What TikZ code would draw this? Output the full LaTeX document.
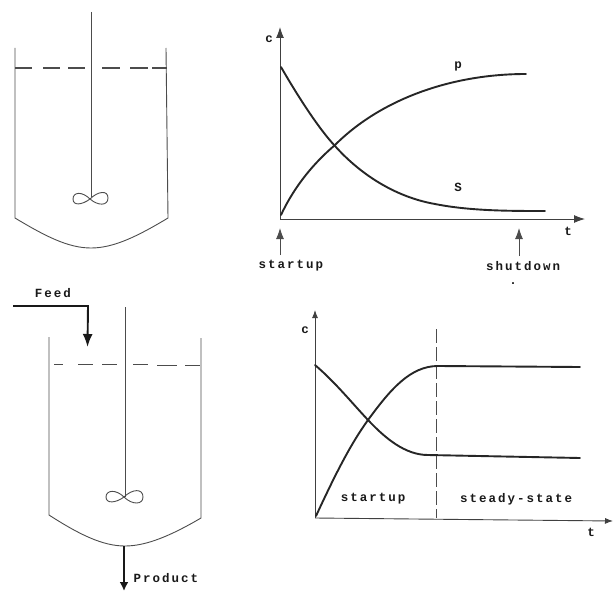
\documentclass[tikz,border=0pt]{standalone}
\usepackage{fontspec}
\setmainfont{Liberation Mono}[LetterSpace=16]
\usetikzlibrary{arrows.meta}
\tikzset{
  thin line/.style={draw=black!70,line width=0.9pt},
  curve/.style={draw=black!85,line width=1.9pt,line cap=round},
  axis/.style={draw=black!75,line width=0.9pt},
  label/.style={font=\fontsize{12.5}{14}\selectfont\bfseries,text=black!90,inner sep=0pt},
  heavy/.style={draw=black!90,line width=1.9pt},
  big tip/.style={-{Latex[length=11pt,width=8pt]}},
  small tip/.style={-{Latex[length=8pt,width=6pt]}},
}
\begin{document}
\begin{tikzpicture}[x=1pt,y=-1pt]
\useasboundingbox (0,0) rectangle (615,591);
% top vessel
\draw[thin line] (15,48) -- (15,218) .. controls (45,236) and (68,248) .. (91,248) .. controls (114,248) and (138,236) .. (168,218) -- (166,48);
\draw[thin line] (91,12) -- (91,197);
\draw[thin line,line width=1.1pt] (15,68) -- (32,68) (43,68) -- (60,68) (68,68) -- (85,68) (102,68) -- (120,68) (130,68) -- (148,68) (152,68) -- (167,68);
\draw[thin line] (90,199) .. controls (82,191) and (73,192) .. (73,199) .. controls (73,206) and (82,205) .. (90,199) .. controls (98,191) and (108,190) .. (108,198) .. controls (108,206) and (98,206) .. (90,199);
% bottom vessel
\draw[thin line] (49,337) -- (49,515) .. controls (80,535) and (103,546) .. (125,546) .. controls (147,546) and (172,535) .. (201,518) -- (201,338);
\draw[thin line] (125,307) -- (125,497);
\draw[thin line] (54,364) -- (63,364) (78,364) -- (93,364) (102,364) -- (117,364) (133,364) -- (148,364) (157,365) -- (177,365) (185,365.5) -- (200,365.5);
\draw[thin line] (124,497) .. controls (116,489) and (106,490) .. (106,497) .. controls (106,504) and (116,503) .. (124,497) .. controls (132,489) and (143,488) .. (143,497) .. controls (143,505) and (132,505) .. (124,497);
\coordinate (feedA) at (13,306);
\coordinate (feedB) at (88,306);
\coordinate (feedC) at (87.5,347);
\draw[heavy,-{Latex[length=13pt,width=10pt]}] (feedA) -- (feedB) -- (feedC);
\node[label] (feed) at (53,293) {Feed};
\coordinate (prodA) at (124,546);
\coordinate (prodB) at (124,591);
\draw[heavy,-{Latex[length=9pt,width=9pt]}] (prodA) -- (prodB);
\node[label] (product) at (166,578) {Product};
% top chart
\coordinate (o1) at (280,219);
\coordinate (y1) at (280,27);
\coordinate (x1) at (585,219);
\draw[axis,big tip] (o1) -- (y1);
\draw[axis,big tip] (o1) -- (x1);
\draw[curve] (281,67) .. controls (300,100) and (320,130) .. (335,146) .. controls (360,174) and (395,197) .. (435,204) .. controls (470,211) and (510,211) .. (545,211);
\draw[curve] (281,215) .. controls (295,185) and (315,162) .. (335,145) .. controls (380,100) and (450,74) .. (526,74);
\node[label] (c1) at (269,39) {c};
\node[label] (p1) at (458,66) {p};
\node[label] (s1) at (458,187) {S};
\node[label] (t1) at (568,231) {t};
\node[label] (st1) at (291,266) {startup};
\node[label] (sd1) at (523,266) {shutdown};
\node[label] (dot) at (513,284) {.};
\coordinate (a1) at (280,255);
\coordinate (a2) at (280,228);
\coordinate (b1) at (519,256);
\coordinate (b2) at (519,228);
\draw[thin line,big tip] (a1) -- (a2);
\draw[thin line,big tip] (b1) -- (b2);
% bottom chart
\coordinate (o2) at (315,518);
\coordinate (y2) at (315,310);
\coordinate (x2) at (613,521);
\draw[axis,small tip] (o2) -- (y2);
\draw[axis,small tip] (o2) -- (x2);
\draw[thin line,dash pattern=on 14pt off 4pt] (436,329) -- (436,518);
\draw[curve] (316,516) .. controls (335,475) and (350,445) .. (368,420) .. controls (390,390) and (410,366) .. (438,366) -- (580,367);
\draw[curve] (315,365) .. controls (335,382) and (352,403) .. (368,420) .. controls (385,438) and (405,455) .. (428,455) -- (580,458);
\node[label] (c2) at (305,330) {c};
\node[label] (t2) at (591,532) {t};
\node[label] (st2) at (373,499) {startup};
\node[label] (ss) at (516,499) {steady-state};
\end{tikzpicture}
\end{document}
